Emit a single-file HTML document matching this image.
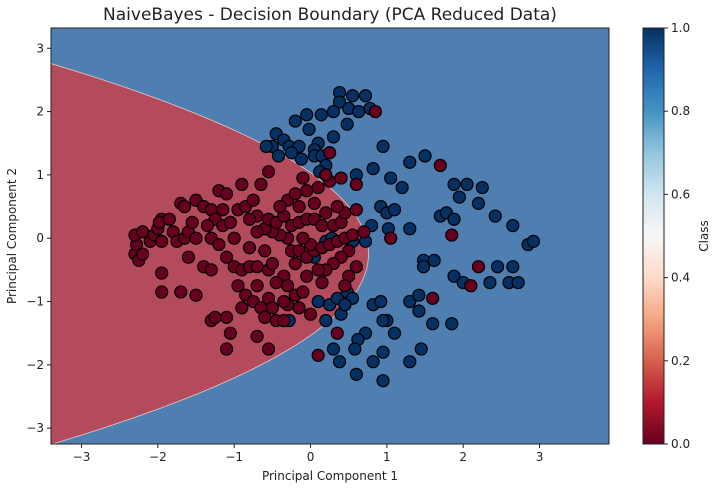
<!DOCTYPE html>
<html><head><meta charset="utf-8"><style>
body{margin:0;background:#fff;font-family:"Liberation Sans","DejaVu Sans",sans-serif;}
svg text{font-family:"DejaVu Sans","Liberation Sans",sans-serif;}
</style></head><body>
<svg id="chart" width="712" height="484" xmlns="http://www.w3.org/2000/svg">
<defs>
<linearGradient id="rdbu" x1="0" y1="1" x2="0" y2="0">
<stop offset="0" stop-color="#67001f"/><stop offset="0.1" stop-color="#b2182b"/><stop offset="0.2" stop-color="#d6604d"/><stop offset="0.3" stop-color="#f4a582"/><stop offset="0.4" stop-color="#fddbc7"/><stop offset="0.5" stop-color="#f7f7f7"/><stop offset="0.6" stop-color="#d1e5f0"/><stop offset="0.7" stop-color="#92c5de"/><stop offset="0.8" stop-color="#4393c3"/><stop offset="0.9" stop-color="#2166ac"/><stop offset="1" stop-color="#053061"/>
</linearGradient>
<clipPath id="plotclip"><rect x="51" y="28" width="558" height="416"/></clipPath>
</defs>
<text x="330" y="20" font-size="17" text-anchor="middle" fill="#222">NaiveBayes - Decision Boundary (PCA Reduced Data)</text>
<g id="plot" clip-path="url(#plotclip)"></g>
<rect x="51" y="28" width="558" height="416" fill="none" stroke="#222" stroke-width="1"/>
<g id="axes"></g>
<text x="330" y="480" font-size="12" text-anchor="middle" fill="#222">Principal Component 1</text>
<text transform="translate(16,236) rotate(-90)" font-size="12" text-anchor="middle" fill="#222">Principal Component 2</text>
<rect x="643" y="28" width="21" height="416" fill="url(#rdbu)" stroke="#222" stroke-width="1"/>
<g id="cbticks"></g>
<text transform="translate(708,236) rotate(-90)" font-size="12" text-anchor="middle" fill="#222">Class</text>
</svg>
<script>
const xTicks=[-3,-2,-1,0,1,2,3];
const yTicks=[-3,-2,-1,0,1,2,3];
const cbTicks=[0.0,0.2,0.4,0.6,0.8,1.0];
const boundary={vertexX:0.76,vertexY:-0.25,curv:0.46};
const blueX=[0.38,0.38,0.55,0.72,0.5,0.63,0.78,0.3,0.48,0.14,-0.05,-0.2,-0.02,0.3,0.1,0.05,-0.45,-0.5,-0.35,-0.28,-0.15,0.05,0.15,-0.12,-0.25,-0.42,-0.58,0.2,0.95,1.05,1.3,1.5,1.2,0.82,0.6,0.12,1.88,2.05,2.25,1.95,1.7,1.78,1.88,2.2,2.42,2.65,2.85,2.92,1.02,0.8,0.55,0.72,0.92,1.0,1.1,1.3,1.48,1.48,1.62,1.88,2.0,2.45,2.65,2.6,2.72,2.35,0.25,0.35,0.48,0.55,0.4,0.2,0.82,0.92,1.0,0.95,1.3,1.42,1.6,1.85,1.1,1.45,0.72,0.62,0.58,0.95,0.38,0.82,0.6,0.95,1.3,0.45,0.3,1.42,-0.28,0.1,0.05,0.2,0.28];
const blueY=[2.3,2.15,2.25,2.25,2.05,2.0,2.05,2.0,1.8,1.95,1.95,1.85,1.72,1.6,1.5,1.4,1.65,1.45,1.55,1.45,1.45,1.3,1.3,1.25,1.35,1.3,1.45,1.15,1.45,0.95,1.2,1.3,0.8,1.1,1.0,1.05,0.85,0.85,0.8,0.65,0.35,0.4,0.3,0.55,0.35,0.2,-0.1,-0.05,0.15,0.2,-0.05,-0.05,0.5,0.4,0.45,0.15,-0.35,-0.45,-0.35,-0.6,-0.7,-0.45,-0.45,-0.7,-0.7,-0.7,-1.05,-0.95,-0.85,-0.95,-1.2,-1.3,-1.05,-1.0,-1.3,-1.3,-1.0,-1.15,-1.35,-1.35,-1.5,-1.75,-1.5,-1.6,-1.75,-1.8,-1.95,-1.95,-2.15,-2.25,-1.95,-1.05,-1.75,-0.9,-1.3,-1.0,-0.3,-0.05,0.0];
const redX=[-2.3,-2.25,-2.2,-2.28,-2.3,-2.1,-2.2,-2.05,-1.95,-2.0,-1.95,-1.98,-1.85,-1.8,-1.75,-1.65,-1.6,-1.55,-1.7,-1.65,-1.5,-1.4,-1.3,-1.2,-1.1,-1.25,-1.35,-1.15,-1.05,-0.95,-0.85,-0.75,-0.7,-0.8,-1.3,-1.5,-1.2,-1.1,-1.0,-0.9,-0.8,-0.7,-0.55,-0.5,-1.95,-1.95,-1.7,-1.5,-1.4,-1.3,-1.3,-1.25,-1.1,-1.05,-1.1,-0.95,-0.85,-0.75,-0.65,-0.6,-0.55,-0.5,-0.45,-0.35,-0.3,-0.2,-0.1,-0.05,-0.2,-0.35,-0.45,-0.25,-0.15,-0.05,0.05,0.15,0.25,0.35,0.45,0.55,0.5,0.4,0.3,0.2,0.1,0.0,-0.1,-0.3,-0.4,-0.5,-0.6,-0.7,-0.55,-0.45,-0.35,-0.25,-0.15,-0.05,0.05,0.15,0.2,0.3,0.4,0.45,0.05,-0.15,-0.3,-0.4,-0.2,-0.05,0.1,-0.65,-0.9,-0.55,-0.1,0.25,0.0,-0.7,-0.55,-0.35,-0.15,0.15,-0.6,-0.8,-1.0,-1.15,0.6,0.35,0.5,0.7,-1.6,-0.3,-0.9,-0.7,0.85,0.25,1.7,0.6,1.85,2.2,2.1,1.6,1.05,0.6,0.45,0.1,0.35,0.4,0.2];
const redY=[-0.25,-0.35,-0.25,-0.1,0.05,-0.05,0.1,0.05,-0.05,0.15,0.3,0.25,0.3,0.1,-0.05,0.0,0.1,0.25,0.55,0.5,0.6,0.5,0.45,0.75,0.7,0.3,0.2,0.2,0.25,0.45,0.5,0.6,0.35,0.3,0.0,0.0,-0.1,-0.3,-0.45,-0.5,-0.45,-0.45,-0.5,-0.4,-0.55,-0.85,-0.85,-0.9,-0.45,-0.5,-1.3,-1.25,-1.25,-1.5,-1.75,-0.75,-0.9,-1.0,-1.1,-1.25,-0.95,-1.1,-1.3,-1.3,-1.05,-0.9,-0.85,-0.6,-0.4,-0.6,-0.7,-0.2,-0.2,-0.3,-0.2,-0.15,-0.1,-0.05,0.0,0.05,-0.2,-0.3,-0.4,-0.5,-0.5,-0.1,0.0,0.0,0.05,0.1,0.15,0.1,0.3,0.25,0.35,0.2,0.25,0.3,0.3,0.2,0.4,0.2,0.25,0.4,0.55,0.5,0.6,0.5,0.7,0.75,0.8,0.85,0.85,1.05,0.95,0.9,-1.2,-1.55,-1.75,-1.0,-1.1,-0.7,-0.2,-0.15,0.0,0.45,-0.45,0.5,-0.6,0.1,-0.3,-0.75,-1.1,-0.75,2.0,1.35,1.15,0.85,0.05,-0.45,-0.75,-0.95,0.0,0.45,-0.75,-1.85,-1.5,0.95,1.0];
const X0=-3.4,X1=3.91,Y0=-3.25,Y1=3.32,PL=51,PR=609,PT=28,PB=444;
const sx=v=>PL+(v-X0)/(X1-X0)*(PR-PL);
const sy=v=>PB-(v-Y0)/(Y1-Y0)*(PB-PT);
const NS="http://www.w3.org/2000/svg";
const plot=document.getElementById('plot');
function mk(tag,attrs,parent){const e=document.createElementNS(NS,tag);for(const k in attrs)e.setAttribute(k,attrs[k]);parent.appendChild(e);return e;}
const bg=mk('rect',{x:PL,y:PT,width:PR-PL,height:PB-PT,fill:'#4f7eb0'},plot);


let d='';
for(let i=0;i<=100;i++){const y=Y0-0.5+(Y1-Y0+1)*i/100;const x=boundary.vertexX-boundary.curv*(y-boundary.vertexY)**2;d+=(i?'L':'M')+sx(x).toFixed(1)+','+sy(y).toFixed(1);}
d+='L'+sx(-6)+','+sy(Y1+0.5)+'L'+sx(-6)+','+sy(Y0-0.5)+'Z';
const reg=mk('path',{d:d,fill:'#b44b5c',stroke:'#e8c8cc','stroke-width':0.8},plot);


function pts(xs,ys,col,name){for(let i=0;i<xs.length;i++){const c=mk('circle',{cx:sx(xs[i]),cy:sy(ys[i]),r:6,fill:col,stroke:'#000','stroke-width':1.2},plot);

}}
pts(blueX,blueY,'#053061','point-class-1');
pts(redX,redY,'#67001f','point-class-0');
const ax=document.getElementById('axes');
xTicks.forEach(t=>{const x=sx(t);mk('line',{x1:x,x2:x,y1:PB,y2:PB+4,stroke:'#222'},ax);const tx=mk('text',{x:x,y:PB+17,'font-size':12,'text-anchor':'middle',fill:'#222'},ax);tx.textContent=(t<0?'\u2212':'')+Math.abs(t);

});
yTicks.forEach(t=>{const y=sy(t);mk('line',{x1:PL-4,x2:PL,y1:y,y2:y,stroke:'#222'},ax);const tx=mk('text',{x:PL-7,y:y+4,'font-size':12,'text-anchor':'end',fill:'#222'},ax);tx.textContent=(t<0?'\u2212':'')+Math.abs(t);

});
const cb=document.getElementById('cbticks');
cbTicks.forEach(t=>{const y=444-t*416;mk('line',{x1:664,x2:668,y1:y,y2:y,stroke:'#222'},cb);const tx=mk('text',{x:671,y:y+4,'font-size':12,fill:'#222'},cb);tx.textContent=t.toFixed(1);

});
</script>
</body></html>
